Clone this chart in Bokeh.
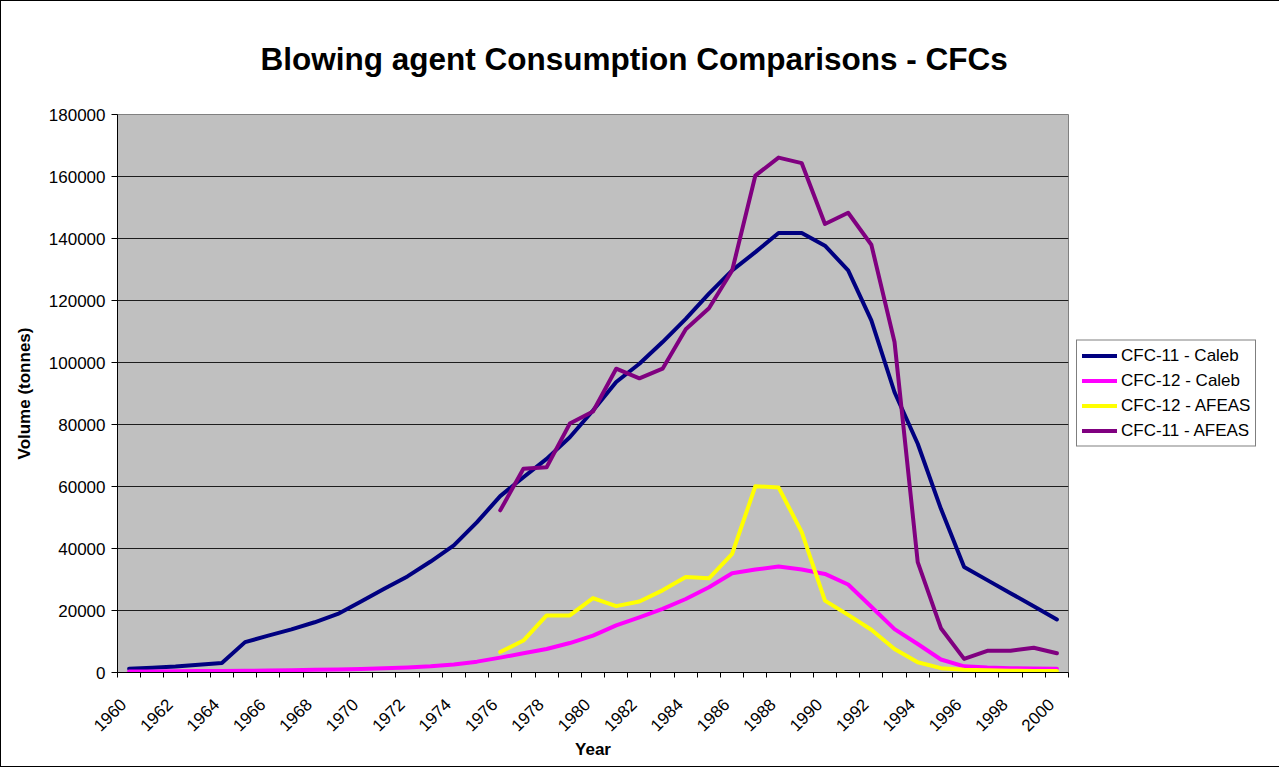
import math
import numpy as np
from bokeh.plotting import figure
from bokeh.models import (ColumnDataSource, FixedTicker, NumeralTickFormatter,
                          Legend, LegendItem, Range1d, Title)
from bokeh.embed import file_html
from bokeh.resources import INLINE

# ---------------- data ----------------
years = list(range(1960, 2001))

cfc11_caleb = [1200, 1500, 1900, 2500, 3100, 9800, 11900, 13900, 16200, 18900,
               22900, 27000, 31000, 35800, 41000, 48500, 56900, 63000, 68900, 75900,
               84500, 93700, 99600, 106600, 114100, 122200, 129700, 135600, 141800, 141800,
               137700, 129700, 113600, 90400, 73800, 52800, 34000, 29800, 25600, 21400,
               17100]

cfc12_caleb = [300, 350, 400, 450, 500, 550, 650, 750, 850, 1000,
               1150, 1350, 1600, 2000, 2600, 3500, 4800, 6200, 7600, 9500,
               11900, 15200, 17800, 20500, 23700, 27500, 32000, 33200, 34200, 33200,
               31800, 28400, 21200, 14000, 9200, 4200, 2000, 1600, 1400, 1300,
               1200]

cfc12_afeas = [None] * 16 + [6600, 10300, 18400, 18400,
               24000, 21400, 22900, 26500, 30800, 30400, 38300, 60100, 59700, 45300,
               23200, 18600, 13800, 7600, 3300, 1400, 900, 700, 600, 500,
               500]

cfc11_afeas = [None] * 16 + [52300, 65700, 66200, 80300,
               84200, 98000, 94900, 98000, 110700, 117500, 129700, 160300, 166100, 164300,
               144700, 148300, 138000, 106600, 35600, 14300, 4400, 7000, 7000, 8000,
               6200]

series_names = ["CFC-11 - Caleb", "CFC-12 - Caleb", "CFC-12 - AFEAS", "CFC-11 - AFEAS"]
series_colors = ["#000080", "#FF00FF", "#FFFF00", "#800080"]

tick_years = list(range(1960, 2001, 2))
y_ticks = list(range(0, 180001, 20000))

FONT = "Liberation Sans"
LABEL_SHIFT = 0.25  # rotated labels end slightly left of the category centre

# ---------------- figure ----------------
p = figure(frame_width=951, frame_height=558, output_backend="svg", toolbar_location=None,
           x_range=Range1d(1959.5, 2000.5), y_range=Range1d(0, 180000),
           min_border_left=116, min_border_right=194, min_border_top=111,
           min_border_bottom=94,
           background_fill_color="#C0C0C0", border_fill_color="white",
           outline_line_color="#808080", outline_line_width=1)

p.styles = {"border": "1px solid black"}
p.title.text = ""

xa = p.below[0]
ya = p.left[0]

title = Title(text="Blowing agent Consumption Comparisons - CFCs",
              align="left", offset=143, text_font=FONT, text_font_size="31.5px",
              text_font_style="bold", text_color="black", standoff=75)
p.add_layout(title, "above")

data = dict(x=years,
            a=np.array(cfc11_caleb, dtype=float),
            b=np.array(cfc12_caleb, dtype=float),
            c=np.array(cfc12_afeas, dtype=float),
            d=np.array(cfc11_afeas, dtype=float))
src = ColumnDataSource(data)

renderers = []
for key, name, col in zip(["a", "b", "c", "d"], series_names, series_colors):
    r = p.line("x", key, source=src, line_color=col, line_width=4,
               line_join="round", line_cap="round")
    renderers.append(r)

# axes
label_pos = [t - LABEL_SHIFT for t in tick_years]
xa.ticker = FixedTicker(ticks=label_pos, minor_ticks=[y - 0.5 for y in years] + [2000.5])
xa.major_label_overrides = {pos: str(t) for pos, t in zip(label_pos, tick_years)}
xa.major_tick_line_color = None
xa.major_tick_out = 0
xa.major_tick_in = 0
xa.minor_tick_line_color = "black"
xa.minor_tick_out = 5
xa.minor_tick_in = 0
xa.axis_line_color = "black"
xa.major_label_orientation = math.pi / 4
xa.major_label_text_font = FONT
xa.major_label_text_font_size = "17px"
xa.major_label_text_color = "black"
xa.major_label_standoff = 24
xa.axis_label = "Year"
xa.axis_label_text_font = FONT
xa.axis_label_text_font_size = "17px"
xa.axis_label_text_font_style = "bold"
xa.axis_label_text_color = "black"
xa.axis_label_standoff = 0

ya.ticker = FixedTicker(ticks=y_ticks)
ya.formatter = NumeralTickFormatter(format="0")
ya.major_tick_line_color = "black"
ya.major_tick_out = 6
ya.major_tick_in = 0
ya.minor_tick_line_color = None
ya.axis_line_color = "black"
ya.major_label_text_font = FONT
ya.major_label_text_font_size = "17px"
ya.major_label_text_color = "black"
ya.major_label_standoff = 6
ya.axis_label = "Volume (tonnes)"
ya.axis_label_text_font = FONT
ya.axis_label_text_font_size = "17px"
ya.axis_label_text_font_style = "bold"
ya.axis_label_text_color = "black"
ya.axis_label_standoff = 12

p.xgrid.grid_line_color = None
p.ygrid.grid_line_color = "black"
p.ygrid.grid_line_width = 1
p.ygrid.grid_line_alpha = 0.85

legend = Legend(items=[LegendItem(label=n, renderers=[r]) for n, r in zip(series_names, renderers)],
                location="center_left",
                border_line_color="black", border_line_width=1,
                background_fill_color="white", background_fill_alpha=1,
                label_text_font=FONT, label_text_font_size="17px", label_text_color="black",
                glyph_width=35, glyph_height=20, label_height=20,
                label_standoff=4, spacing=5, padding=5, margin=8)
p.add_layout(legend, "right")

open("out.html", "w").write(file_html(p, INLINE))
